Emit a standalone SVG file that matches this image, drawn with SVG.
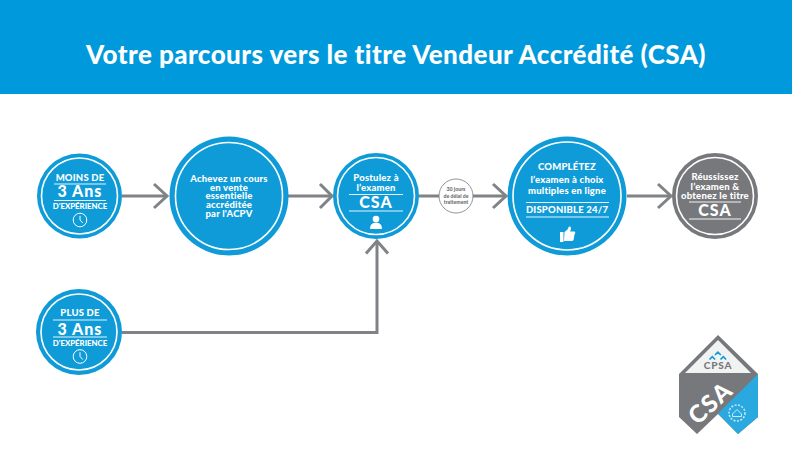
<svg xmlns="http://www.w3.org/2000/svg" width="792" height="465" viewBox="0 0 792 465">
<defs>
<style>
text{font-family:"Lato","Liberation Sans",sans-serif;font-weight:900;fill:#fff;text-anchor:middle}
.ring{fill:none;stroke:#fff;stroke-width:1.600}
.rule{stroke:#fff;stroke-width:1;fill:none;opacity:.9}
.blue{fill:#0e9bd8}
.grey{fill:#77787b}
.cn{fill:none;stroke:#808285;stroke-width:3}
.t8{font-size:9.500px;letter-spacing:.2px}
.big{font-size:16px;letter-spacing:1px}
.sm{font-size:7.800px}
.delay{font-size:5.200px;fill:#6d6e71}
</style>
<symbol id="clock" viewBox="0 0 16 16" overflow="visible"><circle cx="8" cy="8" r="6.800" fill="none" stroke="#fff" stroke-width="1"/><path d="M8 3.800V8l2.800 3" fill="none" stroke="#fff" stroke-width="1"/></symbol>
</defs>
<rect id="header" width="792" height="94" fill="#0099dc"/>
<text x="396" y="64" font-size="26" letter-spacing=".44">Votre parcours vers le titre Vendeur Accrédité (CSA)</text>
<g id="connectors" class="cn">
<path d="M122 196H166"/><path d="M154 184l13 12-13 12"/>
<path d="M288 196H331"/><path d="M320 184l12 12-12 12"/>
<path d="M419 196H505"/><path d="M493 184l13 12-13 12"/>
<path d="M627 196H670"/><path d="M658 184l13 12-13 12"/>
<path d="M122 332.500H377V241"/><path d="M366 253.500l11-12.500 11 12.500"/>
</g>
<g id="n1"><circle class="blue" cx="79.500" cy="196" r="42.500"/><circle class="ring" cx="79.500" cy="196" r="38"/>
<text class="t8" x="80" y="180.500">MOINS DE</text><path class="rule" d="M54 184H106M54 200.500H106"/><text class="big" x="80" y="197">3 Ans</text><text class="sm" x="80" y="209">D'EXPÉRIENCE</text><use href="#clock" x="72" y="212" width="16" height="16"/></g>
<g id="n2"><circle class="blue" cx="229" cy="196" r="59.500"/><circle class="ring" cx="229" cy="196" r="53.500"/>
<text class="t8" x="229" y="182">Achevez un cours</text><text class="t8" x="229" y="191">en vente</text><text class="t8" x="229" y="199">essentielle</text><text class="t8" x="229" y="208">accréditée</text><text class="t8" x="229" y="217">par l'ACPV</text></g>
<g id="n3"><circle class="blue" cx="376" cy="196" r="43"/><circle class="ring" cx="376" cy="196" r="38.500"/>
<text class="t8" x="376" y="181">Postulez à</text><text class="t8" x="376" y="191">l’examen</text><path class="rule" d="M349 194.500H403M349 211H403"/><text class="big" x="376" y="208">CSA</text>
<circle cx="376" cy="219" r="3.300" fill="#fff"/><path d="M370 229q0-6.500 6-6.500t6 6.500z" fill="#fff"/></g>
<g id="n-delay"><circle cx="456" cy="196" r="17" fill="#fff" stroke="#77787b" stroke-width=".8"/>
<text class="delay" x="456" y="191">30 jours</text><text class="delay" x="456" y="197.500">de délai de</text><text class="delay" x="456" y="203.500">traitement</text></g>
<g id="n4"><circle class="blue" cx="567" cy="196" r="59.500"/><circle class="ring" cx="567" cy="196" r="54"/>
<text class="t8" x="567" y="170">COMPLÉTEZ</text><text class="t8" x="567" y="183">l’examen à choix</text><text class="t8" x="567" y="194">multiples en ligne</text><path class="rule" d="M526 202.500H609M526 217H609"/><text class="t8" x="567" y="213">DISPONIBLE 24/7</text>
<path d="M560 232h3.500v10H560zM564.500 232l3-2.500 1.500-3q2-.5 2 2l-.8 3h4.500q1.500 1-.2 3l-.8 5q-.5 1.500-2 1.500h-7.700z" fill="#fff"/></g>
<g id="n5"><circle class="grey" cx="715" cy="196" r="43"/><circle class="ring" cx="715" cy="196" r="38.500"/>
<text class="t8" x="715" y="180">Réussissez</text><text class="t8" x="715" y="189.500">l’examen &amp;</text><text class="t8" x="715" y="199">obtenez le titre</text><path class="rule" d="M689 202H741M689 219H741"/><text class="big" x="715" y="216">CSA</text></g>
<g id="n6"><circle class="blue" cx="79" cy="332" r="43"/><circle class="ring" cx="79" cy="332" r="38"/>
<text class="t8" x="80" y="316">PLUS DE</text><path class="rule" d="M53 320H107M53 337H107"/><text class="big" x="80" y="334.500">3 Ans</text><text class="sm" x="80" y="346">D'EXPÉRIENCE</text><use href="#clock" x="72" y="348.500" width="16" height="16"/></g>
<g id="logo">
<path d="M718 335L758 374V417L738 434L718 414L697 434L679 417V374Z" fill="#77787b"/>
<path d="M758 374V417L738 434L718 413.500Z" fill="#29a9e0"/>
<path d="M718 340L751 373H685Z" fill="#f1f2f2"/>
<path d="M709.500 359.500l2.800-2.800 2.800 2.800M720.500 359.500l2.800-2.800 2.800 2.800M715 355l2.900-2.900 2.900 2.900" fill="none" stroke="#0e9bd8" stroke-width="1.700"/>
<text x="718" y="369" font-size="10" letter-spacing=".8" style="fill:#77787b">CPSA</text>
<text x="0" y="0" font-size="24" transform="translate(716 409) rotate(-42)" letter-spacing="1.500">CSA</text>
<circle cx="737" cy="413" r="8" fill="none" stroke="#cfe9f6" stroke-width="1.500" stroke-dasharray="2 1.500"/>
<path d="M732.500 414l4.500-4.500 4.500 4.500v2.500h-9z" fill="none" stroke="#cfe9f6" stroke-width="1"/>
</g>
</svg>
